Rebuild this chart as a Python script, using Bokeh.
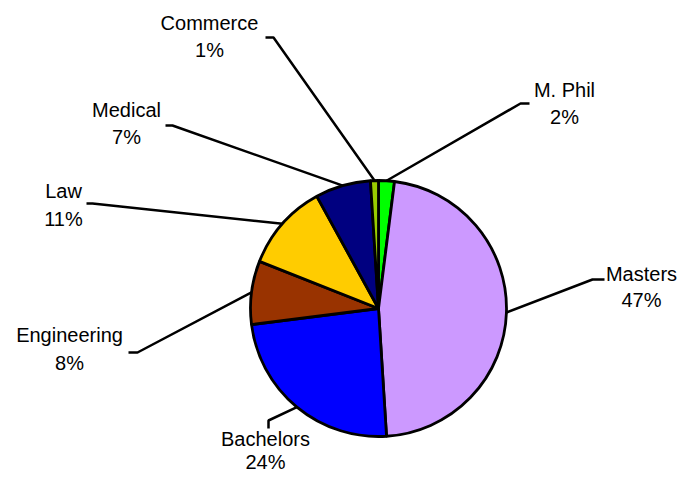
import math
from bokeh.plotting import figure
from bokeh.models import Range1d, ColumnDataSource
from bokeh.core.properties import value
from bokeh.embed import file_html
from bokeh.resources import INLINE

# ---- data ----
categories = ["M. Phil", "Masters", "Bachelors", "Engineering", "Law", "Medical", "Commerce"]
percents = [2, 47, 24, 8, 11, 7, 1]
colors = ["#00FF00", "#CC99FF", "#0000FF", "#993300", "#FFCC00", "#000080", "#99CC00"]

# ---- layout (pixel coordinates, y measured downward from top) ----
W, H = 677, 477
CX, CY, R = 378, 308, 128
TEXT_DY = 8  # compensation for the renderer's baseline placement
# label centre x, baseline y of first line, gap to second line
label_pos = [(564, 97, 27), (641, 281, 26), (265, 446, 23), (69, 342, 28),
             (63, 198, 28), (126, 117, 27), (209, 30, 27)]
# leader tick points near the label (first, second)
ticks = [
    ((529, 103), (520, 103)),
    ((604, 279), (592, 279)),
    ((268, 428), (268, 420)),
    ((128, 352), (137, 352)),
    ((86, 203), (92, 203)),
    ((165, 125), (172, 125)),
    ((265, 37), (273, 37)),
]

def Y(ry):
    return H - ry

total = float(sum(percents))
starts, ends, mids = [], [], []
acc = 0.0
for v in percents:
    f0 = acc / total
    acc += v
    f1 = acc / total
    starts.append(math.pi / 2 - 2 * math.pi * f0)
    ends.append(math.pi / 2 - 2 * math.pi * f1)
    mids.append(math.pi / 2 - 2 * math.pi * (f0 + f1) / 2)

p = figure(width=W, height=H, x_range=Range1d(0, W), y_range=Range1d(0, H),
           output_backend="svg", toolbar_location=None, min_border=0, title=None,
           x_axis_location=None, y_axis_location=None)
p.grid.visible = False
p.outline_line_color = None
p.background_fill_color = "white"
p.border_fill_color = "white"

src = ColumnDataSource(dict(start=starts, end=ends, color=colors, cat=categories))
p.wedge(x=CX, y=Y(CY), radius=R, start_angle="start", end_angle="end", direction="clock",
        fill_color="color", line_color="black", line_width=2.8, source=src)

# leader lines
xs, ys = [], []
for (a, b), m in zip(ticks, mids):
    rx = CX + R * math.cos(m)
    ry = Y(CY) + R * math.sin(m)
    xs.append([a[0], b[0], rx])
    ys.append([Y(a[1]), Y(b[1]), ry])
p.multi_line(xs=xs, ys=ys, line_color="black", line_width=2.5)

# labels
lx = [lp[0] for lp in label_pos]
ly1 = [Y(lp[1] - TEXT_DY) for lp in label_pos]
ly2 = [Y(lp[1] + lp[2] - TEXT_DY) for lp in label_pos]
pct_text = [f"{v}%" for v in percents]
common = dict(text_align="center", text_baseline="alphabetic", text_color="black",
              text_font=value("Liberation Sans"), text_font_size="20px")
p.text(x=lx, y=ly1, text=categories, **common)
p.text(x=lx, y=ly2, text=pct_text, **common)

open("out.html", "w").write(file_html(p, INLINE))
